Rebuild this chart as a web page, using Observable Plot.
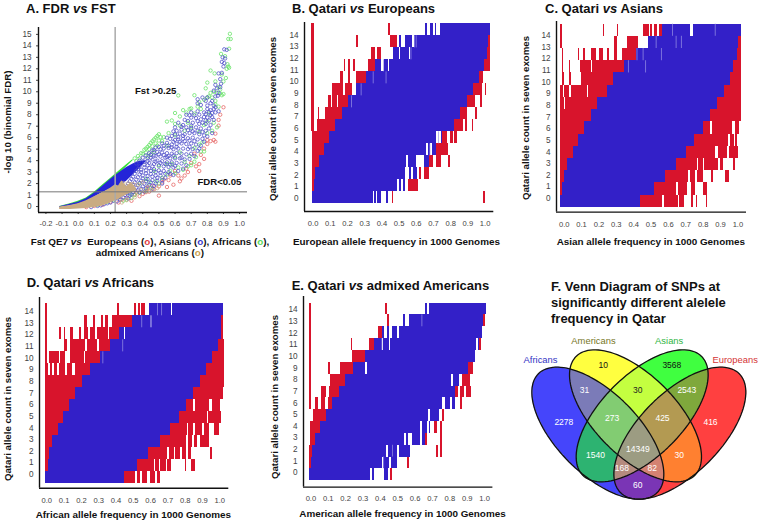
<!DOCTYPE html>
<html><head><meta charset="utf-8">
<script src="https://cdn.jsdelivr.net/npm/d3@7"></script>
<script src="https://cdn.jsdelivr.net/npm/@observablehq/plot@0.6"></script>
<style>
html,body{margin:0;padding:0;background:#fff}
#page{position:relative;width:761px;height:523px;overflow:hidden;font-family:"Liberation Sans",Arial,sans-serif;color:#111}
.t{position:absolute;font-weight:bold;font-size:13px;line-height:16px;white-space:nowrap;transform:translateY(-50%)}
.l{position:absolute;font-weight:bold;font-size:9.9px;line-height:12px;white-space:nowrap;transform:translateY(-50%)}
.c{transform:translate(-50%,-50%)}
.r{font-size:9.7px;transform:translate(-50%,-50%) rotate(-90deg)}
</style></head><body><div id="page"></div>
<script>
// ---------- tick values ----------
const fstTicks=[-.2,-.1,0,.1,.2,.3,.4,.5,.6,.7,.8,.9,1];
const fdrTicks=[0,1,2,3,4,5,6,7,8,9,10,11,12,13,14,15];
const freqTicks=[0,.1,.2,.3,.4,.5,.6,.7,.8,.9,1];
const rowTicks=[0,1,2,3,4,5,6,7,8,9,10,11,12,13,14];

// ---------- Panel A: dense zones and hollow circles (fst, -log10 FDR) ----------
const greenX=[-.115,-.05,0,.05,.1,.15,.2,.25,.3,.34];
const greenTop=[0,.25,.45,.75,1.25,1.85,2.45,3.05,3.65,4.1];
const greenBase=[-.05,.15,.3,.6,1.05,1.6,2.2,2.8,3.45,4];
const blueX=[-.115,-.05,0,.05,.1,.15,.2,.25,.3,.34,.38,.42];
const blueTop=[-.02,.2,.38,.68,1.15,1.75,2.35,2.9,3.4,3.7,3.95,4];
const blueBase=[-.1,.05,.2,.4,.8,1.2,1.5,1.7,2.2,2.75,3.3,3.9];
const tanX=[-.115,-.05,0,.05,.1,.15,.2,.23,.25,.27,.3,.33,.36];
const tanTop=[-.05,.1,.25,.5,.85,1.2,1.6,1.9,1.8,2.25,1.75,2.1,1.6];
const tanBase=[-.25,-.25,-.22,-.18,-.08,.05,.3,.5,.6,.8,1,1.2,1.4];
const redDots=[[.5,.95],[.42,1.25],[.33,.5],[.25,.35],[.3,.75],[.38,.9],[.44,1.3],[.55,1.7],[.59,1.9],[.63,2.2],[.64,2.45],[.66,2.7],[.68,3],[.73,3.5],[.75,3.1],[.75,3.7],[.78,4.15],[.76,4.5],[.72,4.6],[.8,5.8],[.82,5.7],[.85,5.65],[.84,5.8],[.8,5.45],[.85,6.35],[.87,7.55],[.87,7.05],[.88,8],[.9,8.65],[.78,5.05],[.7,3.8],[.6,3.1],[.56,2.3],[.5,1.75],[.47,1.5],[.2,.4],[.15,.15],[.1,.05],[.05,-.05],[.27,.6],[.4,1.1],[.35,1.05],[.52,2.1],[.62,2.7],[.67,3.3],[.57,2.7],[.53,2.35],[.46,1.8],[.43,1.6],[.36,1.2]];
const greenDots=[[.94,15.05],[.93,14.6],[.945,14.6],[.935,13.75],[.885,13.3],[.91,13.1],[.925,12.4],[.93,12.2],[.92,12],[.935,12.1],[.82,11.85],[.845,11.6],[.89,11.5],[.915,11.2],[.9,10.9],[.8,10.8],[.79,10.3],[.85,10.9],[.87,10.4],[.88,10.2],[.84,10],[.82,9.9],[.86,9.9],[.88,9.85],[.9,9.8],[.81,9.6],[.62,9.68],[.72,9.7],[.78,9.3],[.8,9.5],[.75,9.1],[.83,9.5],[.89,9.7],[.85,8.9],[.87,8.7],[.7,8.55],[.69,8.5],[.65,8.4],[.6,8.15],[.63,7.85],[.67,8.2],[.55,7.4],[.58,7.5],[.6,7.2],[.63,7.05],[.53,6.05],[.51,6.05],[.56,6.4],[.7,6.9],[.75,6.5],[.8,7.4],[.84,7.3],[.86,6.9],[.83,6.6],[.8,6.4],[.72,5.1],[.75,5.4],[.77,5.6],[.69,4.4],[.73,4.3],[.76,4.8],[.78,4.8],[.66,3.9],[.7,3.6],[.62,3.4],[.6,2.9],[.55,2.8],[.52,2.5],[.5,2],[.45,1.6],[.42,1.4],[.38,1.2],[.33,.75],[.3,.6],[.28,.5],[.35,1],[.32,1.1],[.48,2.2],[.57,3.1],[.65,3.2],[.68,3.5],[.6,4.3],[.55,3.7],[.47,3.1],[.42,2.4],[.38,2],[.72,3.9],[.25,.8],[.22,.55],[.18,.4],[.12,.15],[.44,2.1],[.58,3.7],[.63,4.7],[.5,3.5],[.78,7.1],[.66,6.6],[.68,7.3],[.72,8.1],[.76,8.5],[.74,8.7],[.81,8.1],[.85,9.2],[.55,5.3],[.52,5.7],[.6,6.2],
 [.35,4.2],[.37,4.4],[.39,4.65],[.41,4.95],[.42,5.05],[.43,5.2],[.44,5.35],[.45,5.55],[.46,5.7],[.47,5.85],[.48,6],[.49,6.15],[.5,6.3],[.4,4.6],[.42,4.7],[.44,5],[.46,5.25],[.48,5.5],[.38,4.2],[.36,3.95],[.5,5.75],[.49,5.3],[.47,4.75],[.45,4.55],[.43,4.35]];
const blueDots=[[.905,13.7],[.92,13.65],[.895,13],[.91,12.9],[.89,12.6],[.905,12.5],[.9,12.2],[.89,11.65],[.87,11.6],[.88,11.1],[.885,10.7],[.85,10.6],[.88,10.4],[.86,10.3],[.84,10.1],[.87,9.9],[.85,9.6],[.865,9.65],[.79,9.2],[.8,9.5],[.74,9],[.74,9.35],[.77,9.5],[.76,8.85],[.8,8.8],[.82,9],[.83,9.2],[.84,8.8],[.85,8.65],[.8,8.5],[.82,8.4],[.84,8.5],[.78,8.2],[.74,8.3],[.7,8.2],[.67,8],[.82,7.95],[.8,7.75],[.84,7.55],[.81,7.5],[.78,7.8],[.76,7.6],[.73,7.7],[.7,7.75],[.68,7.45],[.71,7.3],[.75,7.2],[.79,7.2],[.82,7.1],[.65,7.1],[.62,7.3],[.6,6.9],[.64,6.7],[.67,6.9],[.7,6.8],[.73,6.9],[.76,6.8],[.79,6.6],[.81,6.8],[.83,6.4],[.6,6.3],[.63,6.35],[.66,6.3],[.69,6.4],[.72,6.4],[.75,6.3],[.78,6.2],[.8,6.1],[.55,6],[.57,5.9],[.6,5.8],[.62,5.85],[.65,5.9],[.68,5.95],[.71,6],[.74,5.85],[.77,5.9],[.52,5.5],[.55,5.55],[.58,5.4],[.61,5.45],[.64,5.5],[.67,5.45],[.7,5.5],[.73,5.4],[.75,5.05],[.5,5.2],[.53,5.05],[.56,5.1],[.59,5],[.62,5.05],[.65,5.05],[.68,5],[.71,5],[.74,4.85],[.47,4.9],[.49,4.75],[.52,4.7],[.55,4.65],[.58,4.6],[.61,4.65],[.64,4.6],[.67,4.55],[.7,4.6],[.72,4.4],[.45,4.5],[.48,4.4],[.51,4.35],[.54,4.25],[.57,4.2],[.6,4.2],[.63,4.2],[.66,4.1],[.69,4.15],[.43,4.2],[.46,4.1],[.49,4],[.52,3.95],[.55,3.85],[.58,3.85],[.61,3.8],[.64,3.75],[.67,3.6],[.41,3.9],[.44,3.8],[.47,3.7],[.5,3.6],[.53,3.5],[.56,3.45],[.59,3.4],[.62,3.1],[.65,3.3],[.38,3.5],[.41,3.4],[.44,3.35],[.47,3.25],[.5,3.15],[.53,3.1],[.56,3],[.59,2.75],[.36,3.1],[.39,3],[.42,2.9],[.45,2.85],[.48,2.7],[.51,2.7],[.54,2.5],[.34,2.6],[.37,2.55],[.4,2.45],[.43,2.4],[.46,2.3],[.49,2.25],[.52,2],[.32,2.2],[.35,2.1],[.38,2.05],[.41,2],[.44,1.9],[.47,1.8],[.3,1.75],[.33,1.7],[.36,1.65],[.39,1.55],[.42,1.6],[.28,1.35],[.31,1.3],[.34,1.25],[.37,1.4],[.26,1.05],[.29,1],[.32,.95],[.23,.7],[.26,.6],[.2,.35],[.16,.2],[.12,.05],[.08,-.05],[.76,5.3],[.78,5.65],[.7,7.05],[.66,7.55],[.79,8.05],[.69,5.75],[.59,6.55],[.64,4.25],[.55,4.3],
 [.42,4.45],[.44,4.65],[.46,4.9],[.48,5.15],[.4,4.25],[.38,4],[.36,3.75],[.43,3.95],[.45,4.25],[.47,4.45],[.5,4.55],[.53,4.5],[.56,4.4],[.59,4.45],[.41,3.65],[.43,3.6],[.46,3.5],[.48,3.9],[.51,3.8],[.54,3.7],[.57,3.65],[.6,3.55],[.37,3.25],[.39,3.2],[.42,3.15],[.45,3.1],[.48,3],[.51,2.95],[.54,2.85],[.57,2.85],[.35,2.85],[.38,2.8],[.4,2.7],[.43,2.65],[.46,2.6],[.49,2.5],[.52,2.3],[.33,2.4],[.36,2.35],[.39,2.25],[.42,2.2],[.45,2.1],[.48,2],[.31,2],[.34,1.9],[.37,1.85],[.4,1.75],[.43,1.75],[.46,1.55],[.29,1.6],[.32,1.5],[.35,1.45],[.38,1.25],[.41,1.3],[.27,1.2],[.3,1.15],[.33,1.05],[.25,.85],[.28,.8],[.31,.7],[.22,.5],[.24,.45],[.18,.28],[.14,.1],[.56,5.3],[.58,5.15],[.61,5.2],[.51,5],[.53,5.3],[.63,5.65],[.66,5.7],[.69,5.2],[.72,5.7],[.59,5.65],[.62,6.05],[.65,6.15],[.68,6.65],[.71,6.55],[.74,6.6],[.77,6.5],[.58,6.15],[.61,6.6],[.64,6.95],[.74,7.45],[.77,7.3],[.72,7.95],[.69,7.95],[.75,8],[.79,7.5],[.83,7.8],[.85,8.2],[.83,8.15],[.87,8.3],[.81,8.25]];
const tanDots=[[.28,2.05],[.31,2],[.34,1.95],[.37,1.9],[.4,2.1],[.43,1.7],[.33,1.45],[.36,1.3],[.39,1.45],[.42,1.3],[.46,1.45],[.49,1.6],[.3,.55],[.35,.8],[.27,.35]];

// ---------- Panels B–E: for each allele-count row 0–14, [from,to,from,to,…] of allele frequency ----------
const bRed=[[.46,.47,.992,1],[-.004,.006,.555,.61],[-.004,.015,.62,.632,.645,.675],[-.004,.035,.675,.7,.72,.748,.785,.8],[-.004,.065,.715,.785],[-.004,.097,.752,.781,.8,.815,.82,.84],[-.008,.008,.025,.132,.82,.875,.885,.895,.925,.935],[-.008,.008,.03,.037,.07,.17,.855,.9,.945,.955],[-.008,.008,.09,.105,.115,.14,.15,.205,.895,.945,.975,.985],[-.008,.008,.11,.175,.19,.23,.93,.985,1,1.01],[-.008,.008,.16,.175,.205,.215,.25,.31,.965,.99],[-.008,.008,.18,.19,.205,.215,.235,.245,.32,.365,.995,1.03],[-.008,.008,.34,.36,.375,.395,1.015,1.03],[-.008,.008,.25,.262,.45,.49,1.02,1.03],[-.008,.008,.44,.45]];
const bBlue=[[-.004,.35,.357,.37,.375,.4,.425,.44],[.006,.49,.5,.515,.525,.54],[.015,.54,.56,.575,.585,.605],[.035,.545,.555,.6,.645,.675],[.065,.66,.67,.685,.695,.715],[.097,.715,.745,.755],[.13,.82],[.17,.855],[.205,.895],[.25,.93],[.31,.965],[.365,.397,.417,.44,.447,.995],[.47,.5,.51,.56,.565,1.015],[.505,.515,.54,.58,.59,1.02],[.655,.665,.68,.7,.71,.72,.74,1.03]];
const bLight=[[8,.225],[9,.28],[10,.35],[10,.425],[11,.41],[12,.57],[13,.59],[13,.6],[4,.68],[5,.73]];
const cRed=[[.44,.565,.575,.66,.665,.69,.733,.743,.76,.77,.818,.827],[-.02,-.01,.52,.647,.66,.708,.733,.756,.8,.823],[-.02,0,.583,.718,.727,.756,.766,.8,.848,.858,.93,.952],[-.02,.02,.645,.766,.775,.8,.81,.89,.9,.915,.973,.985],[-.02,.052,.704,.87,.89,.94,.954,1.005],[-.02,.085,.752,.948,.96,.98,.985,1],[-.02,.117,.8,.843,.852,.967,.987,1.01],[-.02,.155,.843,1.02],[-.02,0,.005,.194,.885,1.02],[-.02,-.005,0,.03,.04,.135,.14,.248,.92,1.02],[-.01,0,.028,.04,.098,.286,.955,1.02],[-.01,-.005,.028,.036,.094,.16,.165,.347,.977,1.02],[-.01,-.005,.08,.09,.11,.122,.157,.185,.205,.228,.248,.26,.287,.306,.334,.416,.996,1.02],[-.02,-.01,.292,.305,.367,.43,1.006,1.02],[-.02,-.008,.225,.234,.305,.315,.459,.493,.497,.507,.517,.54,.55,.565]];
const cBlue=[[-.02,.44],[-.01,.52],[0,.583],[.02,.645],[.052,.704],[.085,.752],[.117,.8],[.155,.843],[.194,.885],[.248,.92],[.286,.955],[.347,.977],[.416,.996],[.487,1.006],[.565,.73,.745,1.02]];
const cLight=[[11,.37],[11,.47],[12,.42],[12,.455],[12,.56],[13,.53],[13,.645],[13,.675],[14,.625],[14,.87]];
const dRed=[[.447,.514,.524,.543,.553,.582,.6,.63,.64,.66],[-.006,.008,.524,.62,.63,.65,.66,.69,.7,.72,.8,.81,.835,.86],[-.006,.015,.59,.7,.71,.74,.745,.775,.785,.81,.82,.835,.945,.957],[-.006,.033,.655,.81,.817,.84,.855,.87,.89,.938],[-.006,.065,.713,.813,.82,.848,.86,.9,.913,.938,.967,1],[-.006,.096,.765,.93,.936,1.01],[-.006,.129,.81,.848,.862,.94,.958,1.006],[-.006,.167,.85,1.02],[-.006,.206,.89,1.025],[-.006,.008,.023,.033,.046,.062,.071,.11,.12,.148,.168,.254,.925,1.025],[-.006,.006,.013,.071,.081,.11,.135,.216,.226,.308,.958,1.025],[-.006,.006,.104,.12,.139,.225,.235,.293,.303,.366,.99,1.025],[-.006,.006,.075,.087,.1,.11,.139,.154,.19,.202,.22,.24,.255,.283,.293,.355,.36,.422,1.01,1.02],[-.006,.006,.22,.233,.268,.279,.316,.328,.341,.355,.38,.495,1.01,1.02],[-.006,.006,.41,.418,.505,.52,.528,.544,.548,.572]];
const dBlue=[[-.006,.447],[.008,.524],[.015,.59],[.033,.655],[.065,.713],[.096,.765],[.129,.81],[.167,.85],[.206,.89],[.254,.925],[.308,.958],[.366,.99],[.422,.45,.456,1.01],[.495,1.01],[.592,.72,.727,1.02]];
const dLight=[[14,.64],[14,.665],[13,.55],[13,.6],[13,.605],[11,.44],[10,.325]];
const eRed=[[.457,.47],[-.008,.006,.559,.57],[-.008,.01,.726,.736,.745,.755],[-.004,.029,.66,.67,.745,.757],[-.004,.058,.712,.731,.748,.76],[.015,.092,.755,.77],[-.008,.004,.025,.044,.063,.082,.102,.127,.86,.872],[-.008,.004,.06,.09,.107,.165,.832,.85,.86,.885,.895,.925],[-.008,.004,.11,.2,.875,.92],[-.008,.004,.102,.112,.17,.245,.905,.935],[-.008,.004,.24,.312],[-.008,.004,.234,.242,.338,.365,.97,.985],[-.008,.004,.39,.41],[-.008,.004,.441,.451,.994,1.008],[-.008,.004,.432,.441]];
const eBlue=[[-.008,.342,.352,.365,.424,.447],[.006,.415,.42,.455,.465,.5],[.01,.435,.445,.5,.51,.572],[.029,.54,.55,.56,.585,.63,.64,.66],[.058,.63,.64,.67,.68,.687,.71,.712],[.092,.675,.69,.74],[.127,.76,.773,.802,.815,.83],[.165,.83],[.2,.812,.82,.855,.87,.875],[.245,.315,.325,.905],[.312,.945],[.365,.41,.42,.455,.46,.955,.965,.97],[.41,.425,.44,.455,.47,.5,.51,.99],[.535,.545,.57,.994],[.66,.67,.68,1.01]];
const eLight=[[1,.42],[2,.47],[13,.64],[11,.41]];

// band edges of the 15 allele-count rows in each panel
const bEdges=[-.48,.55,1.58,2.61,3.64,4.67,5.7,6.73,7.76,8.79,9.82,10.85,11.88,12.91,13.95,14.98];
const cEdges=[-.77,.28,1.33,2.38,3.43,4.48,5.53,6.58,7.63,8.68,9.73,10.78,11.83,12.88,13.93,14.98];
const dEdges=[-.8,.23,1.26,2.29,3.32,4.35,5.38,6.41,7.44,8.47,9.5,10.53,11.56,12.6,13.63,14.66];
const eEdges=[-.69,.33,1.35,2.36,3.38,4.4,5.42,6.44,7.45,8.47,9.49,10.51,11.53,12.54,13.56,14.58];

// ---------- Panel F: Venn ----------
const vennSets=[
 {name:"Africans",bit:1,cx:262,cy:503,a:252,b:122,dir:1},
 {name:"Americans",bit:2,cx:375,cy:451,a:252,b:122,dir:1},
 {name:"Asians",bit:4,cx:395,cy:451,a:252,b:122,dir:-1},
 {name:"Europeans",bit:8,cx:508,cy:503,a:252,b:122,dir:-1}];
const vennRegionColors=["#ffffff","#4545fb","#ffff40","#7b7bb8","#40ff40","#2db371","#c4ff40","#82cc72","#ff4040","#7a35b5","#ff8030","#d48272","#7fa83c","#b58a7e","#b39a52","#9c9c82"];
const vennNames=[["Africans",90,282,"#3232c4"],["Americans",249,227,"#77771f"],["Asians",476,227,"#2fb544"],["Europeans",674,282,"#d43434"]];
const vennCounts=[["10",278,300,"#111"],["3568",484,300,"#111"],["31",222,375,"#fff"],["30",382,375,"#222"],["2543",529,375,"#fff"],["2278",160,470,"#fff"],["273",305,458,"#fff"],["425",456,458,"#fff"],["416",600,470,"#fff"],["1540",255,570,"#fff"],["14349",382,552,"#fff"],["30",506,570,"#fff"],["168",334,609,"#fff"],["82",425,609,"#fff"],["60",382,660,"#fff"]];

// ---------- helpers ----------
const page=document.getElementById("page");
const RED="#d8142c",BLUE="#3320c8",LIGHT="#9a94e6";
function add(node,left,top){node.style.position="absolute";node.style.left=left+"px";node.style.top=top+"px";page.appendChild(node);}
function html(cls,left,top,inner,color){const d=document.createElement("div");d.className=cls;d.innerHTML=inner;d.style.left=left+"px";d.style.top=top+"px";if(color)d.style.color=color;page.appendChild(d);}
const asRects=(rows,edges)=>rows.flatMap((r,k)=>d3.range(0,r.length,2).map(i=>({x1:r[i],x2:r[i+1],y1:edges[k],y2:edges[k+1]})));
function frame(f,xd,yd,xt,yt,marks,opt={}){
 const ml=26,mb=16;
 const p=Plot.plot({width:f.x1-f.x0+ml,height:f.y1-f.y0+mb,marginLeft:ml,marginRight:0,marginTop:0,marginBottom:mb,
  x:{domain:xd},y:{domain:yd},style:{background:"transparent",overflow:"visible",fontFamily:"Liberation Sans"},
  marks:[...marks,
   Plot.axisX(xt,{tickSize:opt.tick??0,tickPadding:opt.xpad??9,fontSize:7.6,fill:"#444",stroke:"#444",label:null,anchor:"bottom",tickFormat:d=>d.toFixed(1)}),
   Plot.axisY(yt,{tickSize:opt.tick??0,tickPadding:opt.ypad??6,fontSize:8.2,fill:"#444",stroke:"#444",label:null,anchor:"left",tickFormat:d=>String(d)}),
   Plot.ruleY([yd[0]],{stroke:"#111",strokeWidth:1.4}),
   Plot.ruleX([xd[0]],{stroke:"#111",strokeWidth:1.4})]});
 add(p,f.x0-ml,f.y0);
}
function gridPanel(f,xd,yd,red,blue,light,edges){
 const lightR=light.map(([k,x])=>({x1:x,x2:x+.004,y1:edges[k],y2:edges[k+1]}));
 frame(f,xd,yd,freqTicks,rowTicks,[
  Plot.rect(asRects(red,edges),{x1:"x1",x2:"x2",y1:"y1",y2:"y2",fill:RED,shapeRendering:"crispEdges"}),
  Plot.rect(asRects(blue,edges),{x1:"x1",x2:"x2",y1:"y1",y2:"y2",fill:BLUE,shapeRendering:"crispEdges"}),
  Plot.rect(lightR,{x1:"x1",x2:"x2",y1:"y1",y2:"y2",fill:LIGHT})]);
}
const dots=(a,c)=>Plot.dot(a,{x:d=>d[0],y:d=>d[1],r:1.7,stroke:c,strokeWidth:.75,fill:"none"});
const band=(xs,lo,hi,c)=>Plot.areaY(xs.map((x,i)=>({x,a:lo[i],b:hi[i]})),{x:"x",y1:"a",y2:"b",fill:c});

// ---------- Panel A ----------
frame({x0:38,x1:247,y0:27,y1:212},[-.246,1.049],[-.52,15.6],fstTicks,fdrTicks,[
 dots(redDots,"#e4605f"),
 band(greenX,greenBase,greenTop,"#35e035"),
 dots(greenDots,"#62e262"),
 band(blueX,blueBase,blueTop,"#2424d8"),
 dots(blueDots,"#4c4cc8"),
 band(tanX,tanBase,tanTop,"#c9ab82"),
 dots(tanDots,"#c9ab82"),
 Plot.ruleX([.229],{stroke:"#aaa",strokeWidth:1.5}),
 Plot.ruleY([1.28],{stroke:"#777",strokeWidth:1}),
 Plot.text(["Fst >0.25"],{x:.48,y:10.05,fontSize:9.6,fontWeight:"bold",fill:"#111"}),
 Plot.text(["FDR<0.05"],{x:.875,y:2.15,fontSize:9.6,fontWeight:"bold",fill:"#111"})
],{tick:2,xpad:6,ypad:5});

// ---------- Panels B–E ----------
gridPanel({x0:303.7,x1:493,y0:22,y1:211},[-.05,1.0506],[-1.143,15.09],bRed,bBlue,bLight,bEdges);
gridPanel({x0:556,x1:746,y0:20.7,y1:211.3},[-.0443,1.0495],[-1.17,15.2],cRed,cBlue,cLight,cEdges);
gridPanel({x0:38.7,x1:228,y0:297,y1:487.7},[-.0422,1.052],[-1.18,15.2],dRed,dBlue,dLight,dEdges);
gridPanel({x0:303.3,x1:492.7,y0:295.7,y1:486.3},[-.0426,1.0478],[-1.23,15.14],eRed,eBlue,eLight,eEdges);

// ---------- Panel F ----------
const inside=(s,x,y)=>{const dx=x-s.cx,dy=y-s.cy,u=(dx+s.dir*dy)/Math.SQRT2,v=(dy-s.dir*dx)/Math.SQRT2;return u*u/(s.a*s.a)+v*v/(s.b*s.b)<=1;};
const mask=(x,y)=>vennSets.reduce((m,s)=>m+(inside(s,x,y)?s.bit:0),0);
const outline=vennSets.flatMap(s=>d3.range(0,360,3).map(t=>{const r=t*Math.PI/180,u=s.a*Math.cos(r),v=s.b*Math.sin(r);
 return {name:s.name,x:s.cx+(u-s.dir*v)/Math.SQRT2,y:s.cy+(s.dir*u+v)/Math.SQRT2};}));
const venn=Plot.plot({width:251,height:258,margin:0,x:{domain:[0,753],axis:null},y:{domain:[774,0],axis:null},
 color:{type:"threshold",domain:d3.range(1,16),range:vennRegionColors},
 style:{background:"transparent",fontFamily:"Liberation Sans"},
 marks:[
  Plot.raster({fill:mask,x1:0,x2:753,y1:0,y2:774,width:502,height:516}),
  Plot.line(outline,{x:"x",y:"y",z:"name",curve:"linear-closed",stroke:"#111",strokeWidth:1.3}),
  Plot.text(vennNames,{x:d=>d[1],y:d=>d[2],text:d=>d[0],fill:d=>d[3],fontSize:9.4}),
  Plot.text(vennCounts,{x:d=>d[1],y:d=>d[2],text:d=>d[0],fill:d=>d[3],fontSize:8.5})
 ]});
add(venn,510,265);

// ---------- Titles and axis labels ----------
html("t",26,9,"A. FDR <i>vs</i> FST");
html("t",292,8.5,"B. Qatari <i>vs</i> Europeans");
html("t",545,8.5,"C. Qatari <i>vs</i> Asians");
html("t",26.7,283,"D. Qatari <i>vs</i> Africans");
html("t",291.7,285.7,"E. Qatari <i>vs</i> admixed Americans");
html("t",551,287,"F. Venn Diagram of SNPs at");
html("t",551,303,"significantly different alelele");
html("t",551,319,"frequency in Qatar");
html("l c",150,241.7,'Fst QE7 <i>vs</i>&nbsp; Europeans (<span style="color:#e0403f">o</span>), Asians (<span style="color:#3c3cc8">o</span>), Africans (<span style="color:#58d858">o</span>),');
html("l c",150,253.3,'admixed Americans (<span style="color:#c9a050">o</span>)');
html("l",293,241.7,"European allele frequency in 1000 Genomes");
html("l",556.7,241.7,"Asian allele frequency in 1000 Genomes");
html("l",35.7,515,"African allele frequency in 1000 Genomes");
html("l",299.3,514.3,"American allele frequency in 1000 Genomes");
html("l r",7.5,121.7,"-log 10 (binomial FDR)");
html("l r",273.3,118.7,"Qatari allele count in seven exomes");
html("l r",526,117.5,"Qatari allele count in seven exomes");
html("l r",7.5,398.8,"Qatari allele count in seven exomes");
html("l r",275,396.7,"Qatari allele count in seven exomes");
</script></body></html>
